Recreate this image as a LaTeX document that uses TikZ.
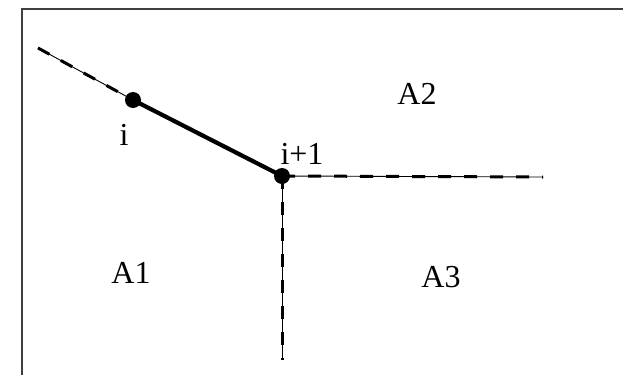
\documentclass[tikz,border=0pt]{standalone}
\usepackage{fontspec}
\setmainfont{Liberation Serif}

\begin{document}
\begin{tikzpicture}[x=1pt,y=-1pt,
vertex/.style={circle,fill,inner sep=0pt,minimum size=16pt},
cut/.style={line width=0.9pt,postaction={draw,line width=3pt,dash pattern=on 13pt off 13pt}},
region/.style={inner sep=0pt,font={\fontsize{32}{34}\selectfont}}
]
\useasboundingbox (0,0) rectangle (623,375);

\draw[line width=2.2pt,black!75] (623,9) -- (22,9) -- (22,375);

\node[vertex] (v1) at (133,100) {};
\node[vertex] (v2) at (282,176) {};
\coordinate (s) at (38,48);
\coordinate (e) at (543,177);
\coordinate (b) at (282,360);

\draw[cut] (s) -- (v1.center);
\draw[line width=4.2pt] (v1.center) -- (v2.center);
\draw[cut] (v2.center) -- (e);
\draw[cut] (v2.center) -- (b);

\node[region] (li) at (124,135) {i};
\node[region] (lj) at (302,154) {i+1};
\node[region] (a2) at (417,94) {A2};
\node[region] (a1) at (131,273) {A1};
\node[region] (a3) at (441,277) {A3};
\end{tikzpicture}
\end{document}
